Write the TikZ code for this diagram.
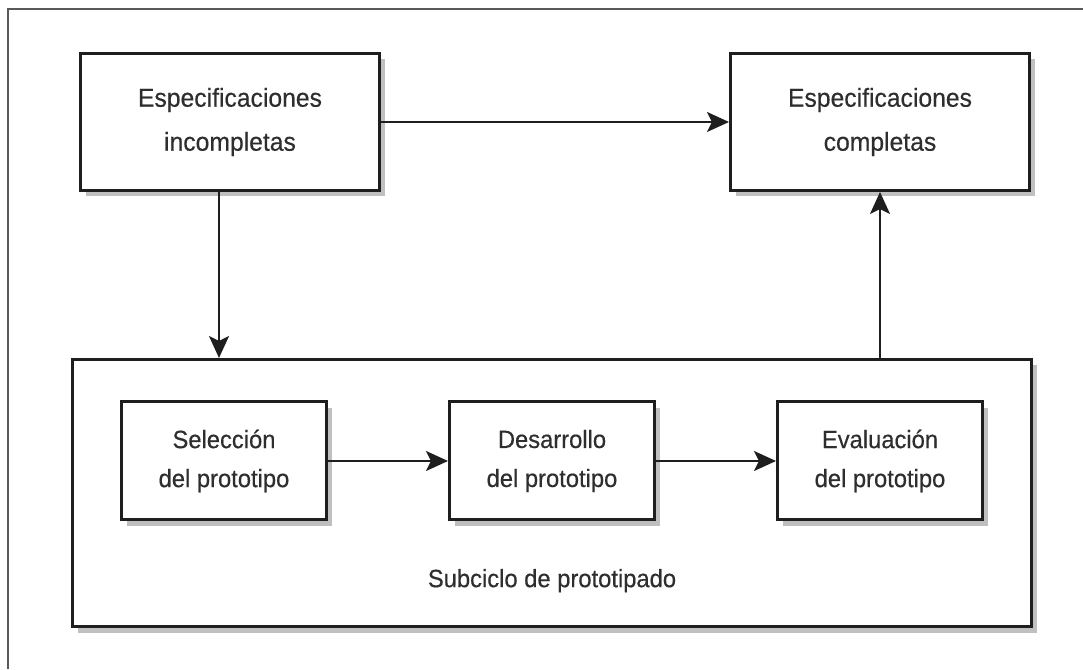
\documentclass[tikz,border=0pt]{standalone}
\usepackage{fontspec}
\setmainfont{Liberation Sans}
\newfontfamily\boxfont{Liberation Sans}[FakeStretch=0.95, FakeBold=0.4]
\usetikzlibrary{arrows.meta,positioning,shadows}
\definecolor{ink}{HTML}{1E1E1E}
\definecolor{txt}{HTML}{2E2E2E}
\tikzstyle{arrow} = [line width=2pt,draw=ink,-{Stealth[length=22pt,width=20pt,inset=5pt]}]
\tikzstyle{spec} = [draw=ink, line width=3pt, fill=white, minimum width=299pt, minimum height=137pt, align=center, text=txt, font=\boxfont\fontsize{26}{44}\selectfont, drop shadow={shadow xshift=5pt, shadow yshift=-6pt, opacity=0.45, fill=black!55}]
\tikzstyle{proto} = [spec, minimum width=205pt, minimum height=118pt, font=\boxfont\fontsize{25}{39}\selectfont]

\begin{document}
\begin{tikzpicture}[x=1pt, y=1pt, node distance=120pt]
	\useasboundingbox (0,0) rectangle (1083,669);
	\draw[line width=1.5pt, draw=black!65] (8,0) -- (8,660) -- (1083,660);

	\node[spec] (incomp) at (230,547) {Especificaciones\\incompletas};
	\node[spec] (comp) at (880,547) {Especificaciones\\completas};
	\node[spec, minimum width=959pt, minimum height=267pt] (subciclo) at (552,176) {};
	\node[proto] (des) at (552,208) {Desarrollo\\del prototipo};
	\node[proto, left= of des] (sel) {Selección\\del prototipo};
	\node[proto, right= of des] (eval) {Evaluación\\del prototipo};
	\node[below=44pt of des, text=txt, font=\boxfont\fontsize{25}{30}\selectfont] (label) {Subciclo de prototipado};

	\draw[arrow] (incomp) -- (comp);
	\draw[arrow] ([xshift=-11pt]incomp.south) -- ([xshift=-11pt]incomp.south |- subciclo.north);
	\draw[arrow] (comp.south |- subciclo.north) -- (comp.south);
	\draw[arrow] (sel) -- (des);
	\draw[arrow] (des) -- (eval);

\end{tikzpicture}
\end{document}
